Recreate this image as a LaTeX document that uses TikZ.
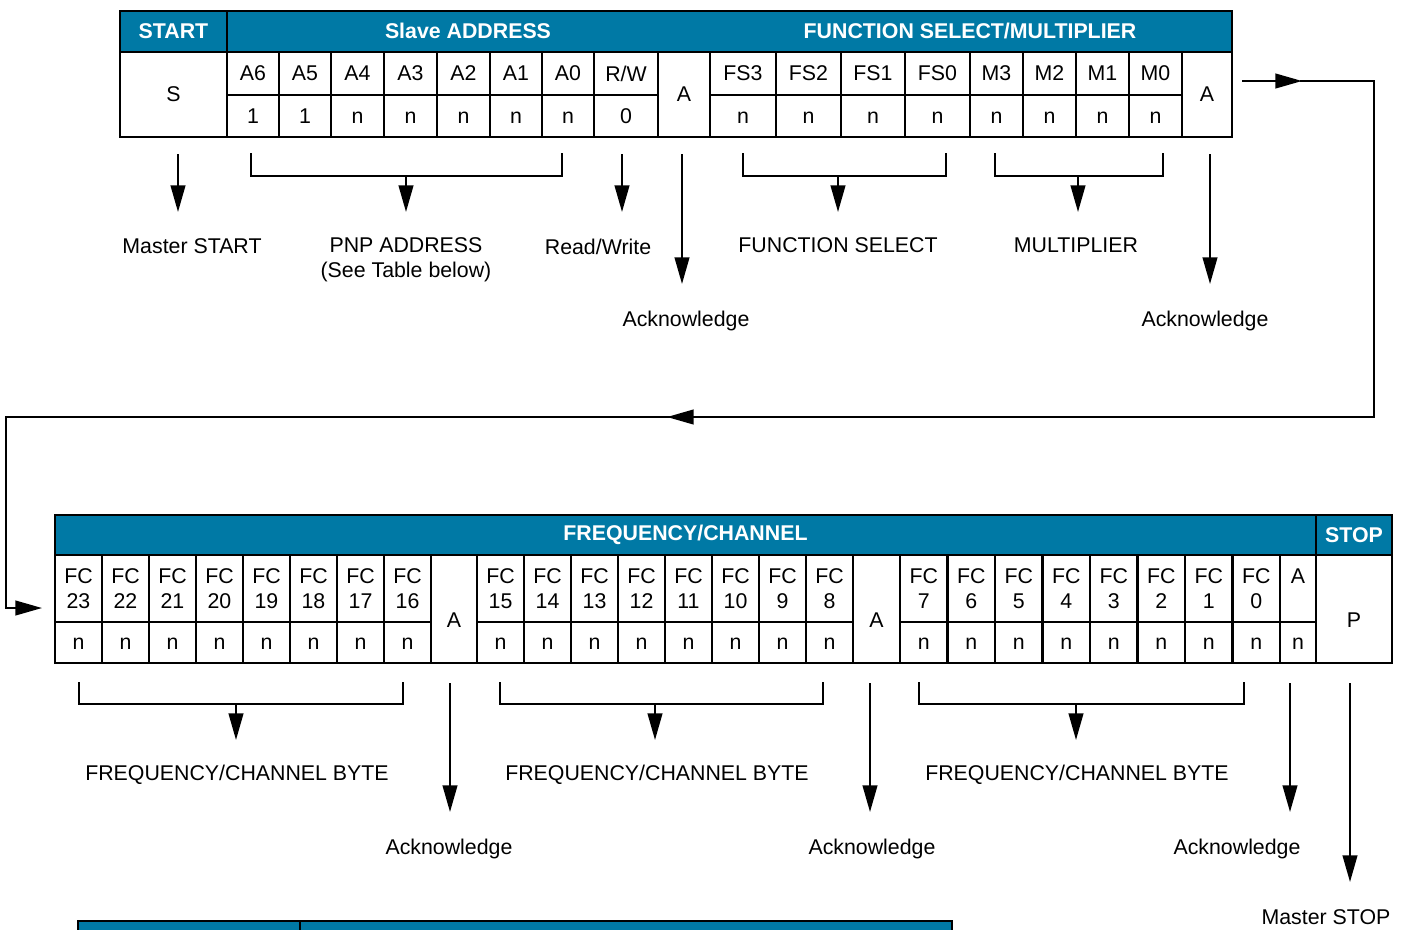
\documentclass[tikz,border=0pt]{standalone}
\usepackage{fontspec}
\setmainfont{Liberation Sans}
\usetikzlibrary{arrows.meta,fit}
\definecolor{busblue}{RGB}{0,121,165}
\newcommand\cellfont{\fontsize{16}{18.5}\selectfont}

\tikzset{
  cell/.style={draw, line width=2.2pt, inner sep=0pt},
  head/.style={cell, fill=busblue},
  txt/.style={align=center, font=\cellfont},
  headtxt/.style={text=white, font=\cellfont\bfseries},
  wire/.style={line width=1.6pt},
  arr/.style={wire, -{Triangle[length=20pt,width=11pt]}},
  lbl/.style={anchor=base, align=center, font=\cellfont},
}

% one table cell: box from corner to corner, text at its centre
\newcommand\bitcell[6]{%
  \node[cell, fit={(#2,#3) (#4,#5)}] (#1) {};
  \node[txt] at (#1.center) {\vphantom{A}#6};}

% bracket under a group of bits, arrow start named
\newcommand\bitbrace[6]{%
  \draw[wire] (#2,#5) |- (#3,#6) -- (#3,#5);
  \coordinate (#1) at (#4,#6);}

\begin{document}
\begin{tikzpicture}[x=0.75pt, y=-0.75pt]
\useasboundingbox (0,0) rectangle (1403,929);

% first frame: address + function select
\node[head, fit={(120,11) (227,52)}] (hstart) {};
\node[headtxt] at (hstart.center) {START};
\node[head, fit={(227,11) (1232,52)}] (hfirst) {};
\node[headtxt] (haddr) at (468,31) {Slave ADDRESS};
\node[headtxt] (hfunc) at (970,31) {FUNCTION SELECT/MULTIPLIER};
\bitcell{S}{120}{52}{227}{137}{S}
\foreach \n/\xa/\xb/\t/\v in {a6/227/279/A6/1, a5/279/331/A5/1, a4/331/384/A4/n,
    a3/384/437/A3/n, a2/437/490/A2/n, a1/490/542/A1/n, a0/542/594/A0/n,
    rw/594/658/{R/W}/0, fs3/710/776/FS3/n, fs2/776/841/FS2/n, fs1/841/905/FS1/n,
    fs0/905/970/FS0/n, m3/970/1023/M3/n, m2/1023/1076/M2/n, m1/1076/1129/M1/n,
    m0/1129/1182/M0/n}
{
  \bitcell{\n}{\xa}{52}{\xb}{95}{\t}
  \bitcell{v\n}{\xa}{95}{\xb}{137}{\v}
}
\bitcell{ack1}{658}{52}{710}{137}{A}
\bitcell{ack2}{1182}{52}{1232}{137}{A}

% second frame: frequency/channel bytes
\node[head, fit={(55,515) (1316,555)}] (hfreq) {};
\node[headtxt] at (hfreq.center) {FREQUENCY/CHANNEL};
\node[head, fit={(1316,515) (1392,555)}] (hstop) {};
\node[headtxt] at (hstop.center) {STOP};
\foreach \g/\xs/\w in {0/55/47, 1/477/47, 2/900/47.5}
  \foreach \i in {0,...,7} {
    \pgfmathtruncatemacro\b{23-8*\g-\i}
    \pgfmathsetmacro\xa{\xs+\i*\w}
    \pgfmathsetmacro\xb{\xa+\w}
    \bitcell{fc\b}{\xa}{555}{\xb}{622}{FC\\\b}
    \bitcell{nfc\b}{\xa}{622}{\xb}{663}{n}
  }
\foreach \n/\xa/\xb/\t in {fa1/431/477/A, fa2/853/900/A, P/1316/1392/P}
{
  \node[cell, fit={(\xa,555) (\xb,663)}] (\n) {};
  \node[txt] at (\n.center |- 0,620) {\t};
}
\bitcell{fa3}{1280}{555}{1316}{622}{A\\\phantom{0}}
\bitcell{nfa3}{1280}{622}{1316}{663}{n}

% labels
\node[lbl] (lmstart) at (192,253) {Master START};
\node[lbl] (lpnp) at (406,277) {PNP ADDRESS\\(See Table below)};
\node[lbl] (lrw) at (598,254) {Read/Write};
\node[lbl] (lack1) at (686,326) {Acknowledge};
\node[lbl] (lfsel) at (838,252) {FUNCTION SELECT};
\node[lbl] (lmult) at (1076,252) {MULTIPLIER};
\node[lbl] (lack2) at (1205,326) {Acknowledge};
\node[lbl] (lbyte1) at (237,780) {FREQUENCY/CHANNEL BYTE};
\node[lbl] (lbyte2) at (657,780) {FREQUENCY/CHANNEL BYTE};
\node[lbl] (lbyte3) at (1077,780) {FREQUENCY/CHANNEL BYTE};
\node[lbl] (lack3) at (449,854) {Acknowledge};
\node[lbl] (lack4) at (872,854) {Acknowledge};
\node[lbl] (lack5) at (1237,854) {Acknowledge};
\node[lbl] (lmstop) at (1326,924) {Master STOP};

% arrows under the first frame
\foreach \c/\x/\y in {S/178/212, vrw/622/212, ack1/682/284, ack2/1210/284}
  \draw[arr, shorten <=12pt] (\x,0 |- \c.south) -- (\x,\y);
\bitbrace{pnp}{251}{562}{406}{153}{176}
\bitbrace{fsel}{743}{946}{838}{153}{176}
\bitbrace{mult}{995}{1163}{1078}{153}{176}
\foreach \c in {pnp, fsel, mult}
  \draw[arr] (\c) -- ++(0,36);

% arrows under the second frame
\foreach \c/\x/\y in {fa1/450/812, fa2/870/812, nfa3/1290/812, P/1350/882}
  \draw[arr, shorten <=14pt] (\x,0 |- \c.south) -- (\x,\y);
\bitbrace{byte1}{79}{403}{236}{682}{704}
\bitbrace{byte2}{500}{823}{655}{682}{704}
\bitbrace{byte3}{919}{1244}{1076}{682}{704}
\foreach \c in {byte1, byte2, byte3}
  \draw[arr] (\c) -- ++(0,36);

% link from first frame to second frame
\coordinate (wout) at (1242,81);
\coordinate (win) at (42,608);
\draw[arr] (wout) -- (1302,81);
\draw[wire] (1300,81) -| (1374,417) -- (667,417);
\draw[arr] (693,417) -- (667,417);
\draw[arr] (667,417) -| (6,608) -- (win);

% top of the table below
\node[head, fit={(78,921) (300,945)}] (tkey) {};
\node[head, fit={(300,921) (952,945)}] (tval) {};
\end{tikzpicture}
\end{document}
